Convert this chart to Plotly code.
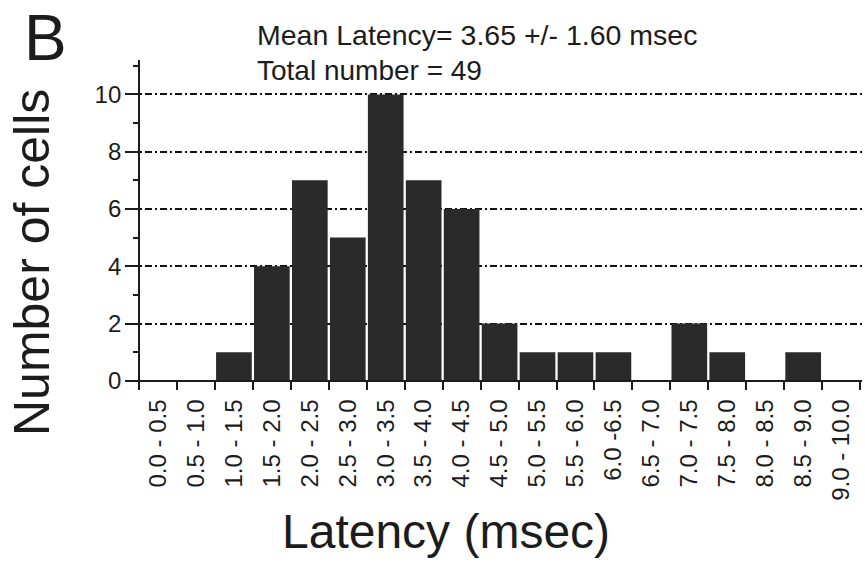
import plotly.graph_objects as go

# Latency bins (msec) and number of cells in each bin
bins = ["0.0 - 0.5", "0.5 - 1.0", "1.0 - 1.5", "1.5 - 2.0", "2.0 - 2.5",
        "2.5 - 3.0", "3.0 - 3.5", "3.5 - 4.0", "4.0 - 4.5", "4.5 - 5.0",
        "5.0 - 5.5", "5.5 - 6.0", "6.0 -6.5", "6.5 - 7.0", "7.0 - 7.5",
        "7.5 - 8.0", "8.0 - 8.5", "8.5 - 9.0", "9.0 - 10.0"]
cells = [0, 0, 1, 4, 7, 5, 10, 7, 6, 2, 1, 1, 1, 0, 2, 1, 0, 1, 0]

y_ticks = [0, 2, 4, 6, 8, 10]

mean_latency = 3.65
sd_latency = 1.60
total = 49

# Figure geometry
W, H = 865, 566
L, R, T, B = 125, 3, 60, 178
PW, PH = W - L - R, H - T - B

x_range = [-0.87, 18.55]
y_range = [-0.25, 11.2]

FONT = "Liberation Sans, Arial, Helvetica, sans-serif"
INK = "#1c1c1c"


def px_x(px):
    return (px - L) / PW


def px_y(py):
    return (H - B - py) / PH


# position the y axis at the left edge of the first bin, x axis at zero
yaxis_pos = (-0.5 - x_range[0]) / (x_range[1] - x_range[0])
xaxis_pos = (0 - y_range[0]) / (y_range[1] - y_range[0])

fig = go.Figure()
fig.add_trace(go.Bar(
    x=bins, y=cells,
    marker=dict(color="#2a2a2a", line=dict(width=0)),
    hoverinfo="x+y",
))

fig.update_layout(
    width=W, height=H,
    margin=dict(l=L, r=R, t=T, b=B, pad=0),
    paper_bgcolor="white", plot_bgcolor="white",
    showlegend=False,
    bargap=0.06,
    font=dict(family=FONT, color=INK),
    xaxis=dict(
        type="category",
        range=x_range,
        anchor="free", position=xaxis_pos,
        showline=True, linecolor=INK, linewidth=2,
        ticks="outside", tickson="boundaries", ticklen=8, tickwidth=2,
        tickcolor=INK,
        tickangle=-90,
        ticklabelstandoff=8,
        tickfont=dict(family=FONT, size=24, color=INK),
        showgrid=False, zeroline=False,
        fixedrange=True,
    ),
    yaxis=dict(
        range=y_range,
        anchor="free", position=yaxis_pos,
        showline=True, linecolor=INK, linewidth=2,
        tickvals=y_ticks,
        ticks="outside", ticklen=12, tickwidth=2, tickcolor=INK,
        tickfont=dict(family=FONT, size=24, color=INK),
        minor=dict(dtick=1, tick0=0, ticks="outside", ticklen=5,
                   tickwidth=2, tickcolor=INK, showgrid=False),
        showgrid=True, gridcolor="#111111", gridwidth=2,
        griddash="2px,3px,7px,3px",
        zeroline=False,
        fixedrange=True,
    ),
)

annotations = [
    dict(text="B", x=px_x(22), y=px_y(38), xanchor="left", yanchor="middle",
         font=dict(size=64, family=FONT, color=INK)),
    dict(text=f"Mean Latency= {mean_latency:.2f} +/- {sd_latency:.2f} msec",
         x=px_x(255), y=px_y(35), xanchor="left", yanchor="middle",
         font=dict(size=28.5, family=FONT, color=INK)),
    dict(text=f"Total number = {total}",
         x=px_x(255), y=px_y(70), xanchor="left", yanchor="middle",
         font=dict(size=28, family=FONT, color=INK)),
    dict(text="Latency (msec)", x=px_x(446), y=px_y(531),
         xanchor="center", yanchor="middle",
         font=dict(size=48, family=FONT, color=INK)),
    dict(text="Number of cells", x=px_x(32), y=px_y(263),
         xanchor="center", yanchor="middle", textangle=-90,
         font=dict(size=50, family=FONT, color=INK)),
]
for a in annotations:
    a.update(xref="paper", yref="paper", showarrow=False)
fig.update_layout(annotations=annotations)

fig.write_html("out.html")
